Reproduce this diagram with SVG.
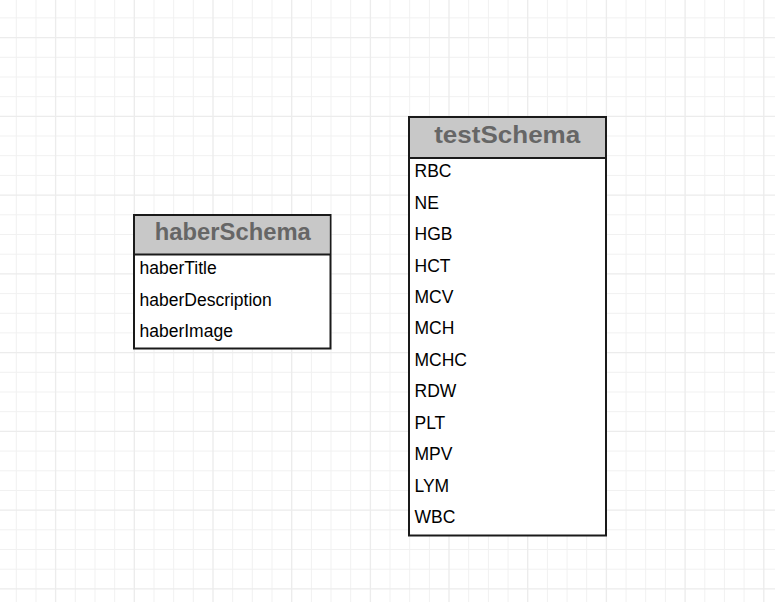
<svg xmlns="http://www.w3.org/2000/svg" width="775" height="602" viewBox="0 0 775 602">
<style>
.bg{fill:#ffffff}
.gmin{stroke:#f1f1f1;stroke-width:1;fill:none}
.gmaj{stroke:#ececec;stroke-width:1.3;fill:none}
.box{fill:#ffffff;stroke:#1a1a1a;stroke-width:2}
.hdr{fill:#c8c8c8;stroke:none}
.sep{stroke:#1a1a1a;stroke-width:2}
.title{font-family:"Liberation Sans",Arial,sans-serif;font-weight:bold;font-size:23.8px;fill:#666666;text-anchor:middle}
.field{font-family:"Liberation Sans",Arial,sans-serif;font-size:17.5px;fill:#000000}
</style>
<rect class="bg" x="0" y="0" width="775" height="602"/>
<g id="grid">
<path class="gmin" d="M16.3 0V602M36 0V602M75.3 0V602M95 0V602M114.7 0V602M154 0V602M173.7 0V602M193.3 0V602M232.7 0V602M252.3 0V602M272 0V602M311.4 0V602M331 0V602M350.7 0V602M390 0V602M409.7 0V602M429.4 0V602M468.7 0V602M488.4 0V602M508.1 0V602M547.4 0V602M567.1 0V602M586.7 0V602M626.1 0V602M645.7 0V602M665.4 0V602M704.8 0V602M724.4 0V602M744.1 0V602M0 17.9H775M0 57.3H775M0 77H775M0 96.7H775M0 136H775M0 155.7H775M0 175.4H775M0 214.8H775M0 234.5H775M0 254.2H775M0 293.6H775M0 313.3H775M0 332.9H775M0 372.3H775M0 392H775M0 411.7H775M0 451.1H775M0 470.8H775M0 490.5H775M0 529.8H775M0 549.5H775M0 569.2H775"/>
<path class="gmaj" d="M55.6 0V602M134.3 0V602M213 0V602M291.7 0V602M370.4 0V602M449 0V602M527.7 0V602M606.4 0V602M685.1 0V602M763.8 0V602M0 37.6H775M0 116.4H775M0 195.1H775M0 273.9H775M0 352.6H775M0 431.4H775M0 510.2H775M0 588.9H775"/>
</g>
<g id="connectors"></g>
<g id="haberSchema">
<rect class="box" x="134" y="215" width="196.5" height="133.5"/>
<rect class="hdr" x="135" y="216" width="194.5" height="38.5"/>
<line class="sep" x1="134" y1="254.5" x2="330.5" y2="254.5"/>
<text class="title" x="232.8" y="239.5" textLength="156" lengthAdjust="spacingAndGlyphs">haberSchema</text>
<text class="field" x="139.5" y="274.3">haberTitle</text>
<text class="field" x="139.5" y="305.5">haberDescription</text>
<text class="field" x="139.5" y="336.8">haberImage</text>
</g>
<g id="testSchema">
<rect class="box" x="409" y="117" width="197" height="418.5"/>
<rect class="hdr" x="410" y="118" width="195" height="40"/>
<line class="sep" x1="409" y1="158" x2="606" y2="158"/>
<text class="title" x="507.2" y="142.5" textLength="146" lengthAdjust="spacingAndGlyphs">testSchema</text>
<text class="field" x="414.5" y="177.2">RBC</text>
<text class="field" x="414.5" y="208.6">NE</text>
<text class="field" x="414.5" y="240.1">HGB</text>
<text class="field" x="414.5" y="271.5">HCT</text>
<text class="field" x="414.5" y="303">MCV</text>
<text class="field" x="414.5" y="334.4">MCH</text>
<text class="field" x="414.5" y="365.9">MCHC</text>
<text class="field" x="414.5" y="397.3">RDW</text>
<text class="field" x="414.5" y="428.8">PLT</text>
<text class="field" x="414.5" y="460.2">MPV</text>
<text class="field" x="414.5" y="491.7">LYM</text>
<text class="field" x="414.5" y="523.1">WBC</text>
</g>
</svg>
